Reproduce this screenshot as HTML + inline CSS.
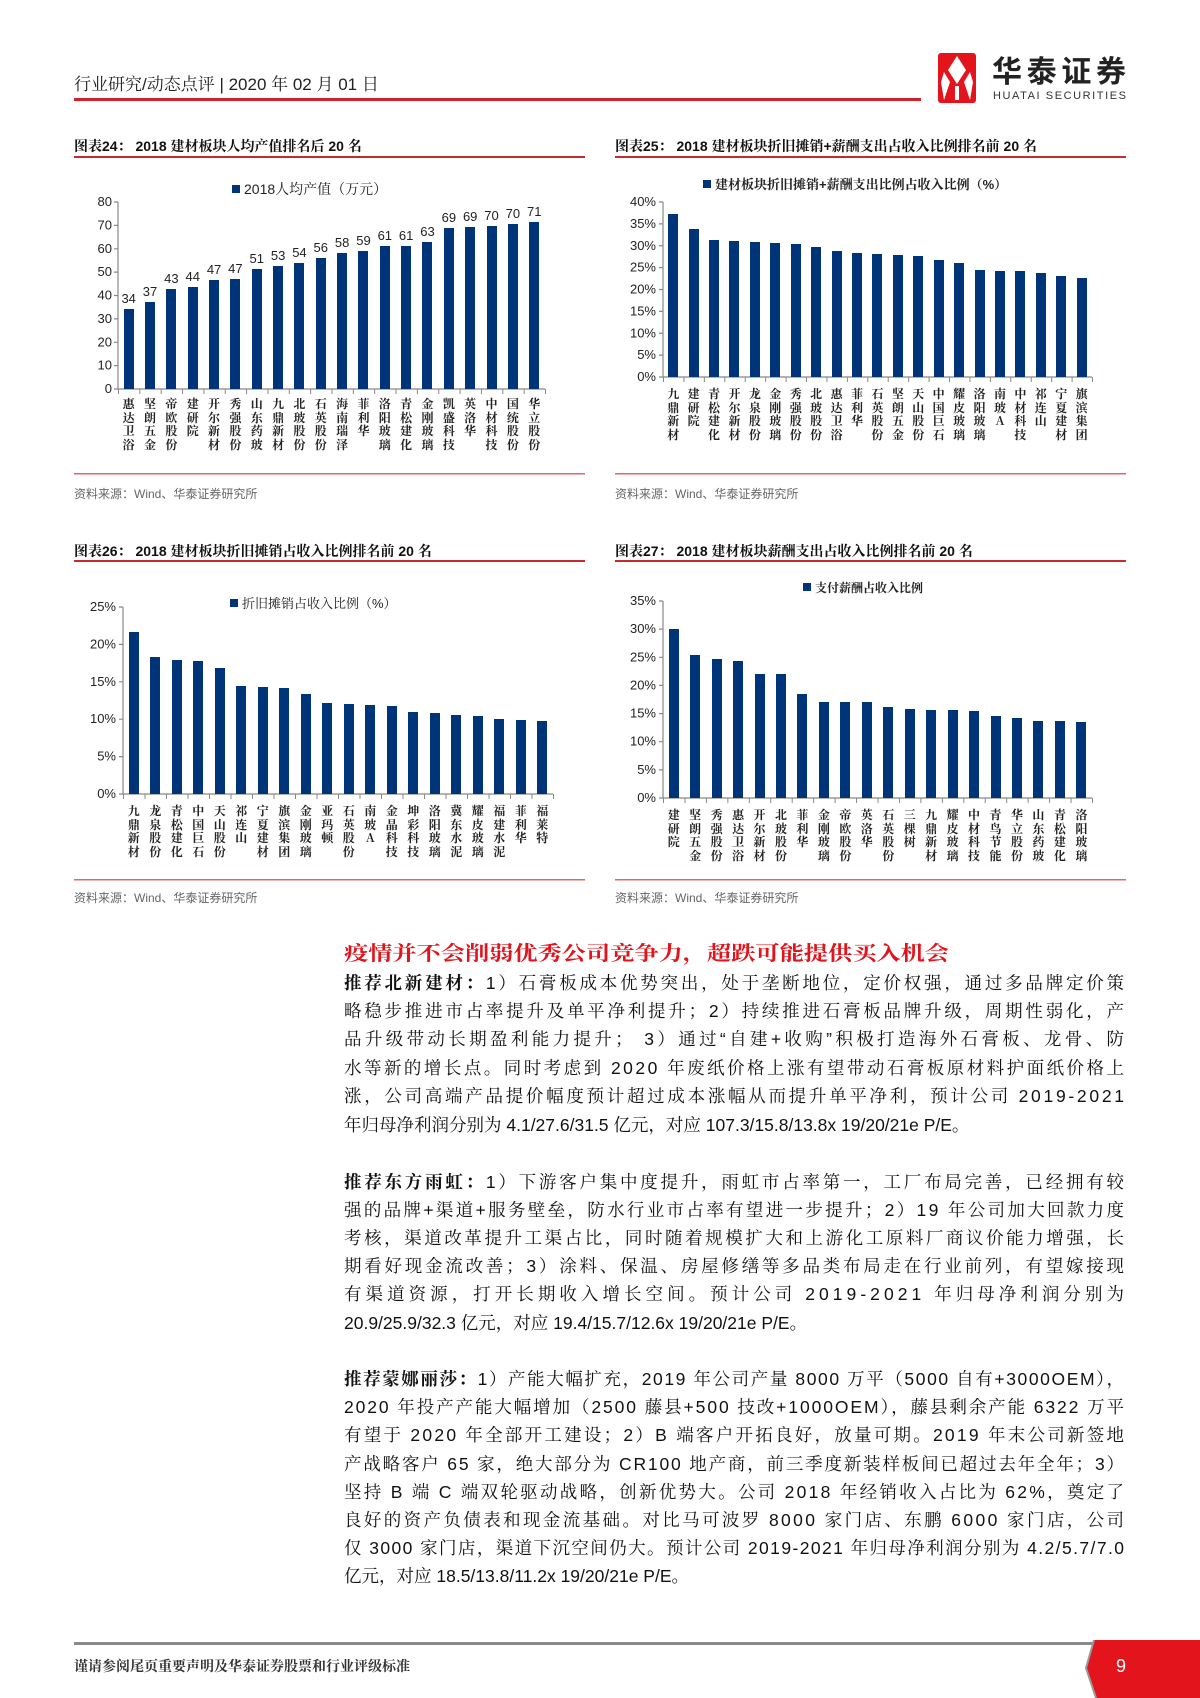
<!DOCTYPE html>
<html><head><meta charset="utf-8">
<style>
*{margin:0;padding:0;box-sizing:border-box}
body{width:1200px;height:1698px;position:relative;background:#fff;font-family:"Liberation Sans","Noto Sans CJK SC",sans-serif;color:#111;overflow:hidden}
.abs{position:absolute}
.plot{position:absolute;display:flex;align-items:flex-end}
.c{flex:1;display:flex;flex-direction:column;align-items:center;justify-content:flex-end}
.b{width:10px;background:#003479}
.v{font-size:13px;line-height:16px;margin-bottom:2px;color:#222}
.names{position:absolute;display:flex;align-items:flex-start}
.names span{flex:1;display:flex;justify-content:center}
.names i{font-style:normal;display:block;width:13px;word-break:break-all;text-align:center;font-size:12px;line-height:13.5px;font-family:"Noto Serif CJK SC","Noto Sans CJK SC",serif;font-weight:bold;color:#222}
.leg{position:absolute;font-family:"Liberation Sans","Noto Serif CJK SC",serif;color:#222;white-space:nowrap}
.leg b{display:inline-block;width:8px;height:8px;background:#003479;margin-right:4px;vertical-align:1px}
.tt{position:absolute;font-family:"Liberation Sans","Noto Serif CJK SC",serif;font-weight:bold;font-size:14px;white-space:nowrap}
.src{position:absolute;font-size:12px;color:#666;font-family:"Liberation Sans","Noto Sans CJK SC",sans-serif}
</style></head><body>

<svg class="abs" style="left:0;top:0" width="1200" height="1698" font-family="Liberation Sans, Noto Sans CJK SC, sans-serif">
<text x="74" y="90" font-size="17" fill="#222" font-family="Liberation Sans, Noto Serif CJK SC, serif">行业研究/动态点评 | 2020 年 02 月 01 日</text>
<rect x="74" y="98" width="847" height="3" fill="#d0202a"/>
<g>
<rect x="938" y="53" width="38" height="50" rx="3" fill="#e3141c"/>
<path d="M957 56 L966 70 L957 84 L948 70Z" fill="#fff"/>
<path d="M944 72 L950 82 L944 100 L941 82Z" fill="#fff"/>
<path d="M970 72 L973 82 L970 100 L964 82Z" fill="#fff"/>
<rect x="955" y="86" width="4" height="14" fill="#fff"/>
</g>
<text x="992" y="82" font-size="30" font-weight="bold" fill="#222" font-family="Noto Sans CJK SC, sans-serif" textLength="134">华泰证券</text>
<text x="993" y="99" font-size="11" fill="#333" textLength="133">HUATAI SECURITIES</text>

<rect x="74" y="156" width="511" height="2" fill="#c62a2a"/>
<rect x="615" y="156" width="511" height="2" fill="#c62a2a"/>
<rect x="74" y="473" width="511" height="1.5" fill="#d86a6a"/>
<rect x="615" y="473" width="511" height="1.5" fill="#d86a6a"/>
<rect x="74" y="560" width="511" height="2" fill="#c62a2a"/>
<rect x="615" y="560" width="511" height="2" fill="#c62a2a"/>
<rect x="74" y="879" width="511" height="1.5" fill="#d86a6a"/>
<rect x="615" y="879" width="511" height="1.5" fill="#d86a6a"/>

<g stroke="#888" stroke-width="1.2" fill="none">
<line x1="118" y1="202" x2="118" y2="389"/><line x1="118" y1="389" x2="545" y2="389"/>
<line x1="118" y1="391.5" x2="546" y2="391.5" stroke-width="5" stroke-dasharray="1 20.35"/>
<path d="M114 202H118M114 225.4H118M114 248.8H118M114 272.1H118M114 295.5H118M114 318.9H118M114 342.3H118M114 365.6H118M114 389H118"/>
<line x1="663" y1="202" x2="663" y2="377"/><line x1="663" y1="377" x2="1092" y2="377"/>
<line x1="663" y1="379.5" x2="1093" y2="379.5" stroke-width="5" stroke-dasharray="1 19.43"/>
<path d="M659 202H663M659 223.9H663M659 245.75H663M659 267.6H663M659 289.5H663M659 311.4H663M659 333.25H663M659 355.1H663M659 377H663"/>
<line x1="123" y1="607" x2="123" y2="794"/><line x1="123" y1="794" x2="553" y2="794"/>
<line x1="123" y1="796.5" x2="554" y2="796.5" stroke-width="5" stroke-dasharray="1 20.5"/>
<path d="M119 607H123M119 644.4H123M119 681.8H123M119 719.2H123M119 756.6H123M119 794H123"/>
<line x1="663" y1="601" x2="663" y2="798"/><line x1="663" y1="798" x2="1092" y2="798"/>
<line x1="663" y1="800.5" x2="1093" y2="800.5" stroke-width="5" stroke-dasharray="1 20.45"/>
<path d="M659 601H663M659 629.1H663M659 657.3H663M659 685.4H663M659 713.6H663M659 741.7H663M659 769.9H663M659 798H663"/>
</g>
<g font-size="13" fill="#222" text-anchor="end">
<text x="112" y="206">80</text><text x="112" y="229.4">70</text><text x="112" y="252.8">60</text><text x="112" y="276.1">50</text><text x="112" y="299.5">40</text><text x="112" y="322.9">30</text><text x="112" y="346.3">20</text><text x="112" y="369.6">10</text><text x="112" y="393">0</text>
<text x="656" y="206">40%</text><text x="656" y="227.9">35%</text><text x="656" y="249.75">30%</text><text x="656" y="271.6">25%</text><text x="656" y="293.5">20%</text><text x="656" y="315.4">15%</text><text x="656" y="337.25">10%</text><text x="656" y="359.1">5%</text><text x="656" y="381">0%</text>
<text x="116" y="611">25%</text><text x="116" y="648.4">20%</text><text x="116" y="685.8">15%</text><text x="116" y="723.2">10%</text><text x="116" y="760.6">5%</text><text x="116" y="798">0%</text>
<text x="656" y="605">35%</text><text x="656" y="633.1">30%</text><text x="656" y="661.3">25%</text><text x="656" y="689.4">20%</text><text x="656" y="717.6">15%</text><text x="656" y="745.7">10%</text><text x="656" y="773.9">5%</text><text x="656" y="802">0%</text>
</g>

<g font-family="Liberation Sans, Noto Serif CJK SC, serif" font-size="17.5" fill="#111">
<text x="344" y="960" font-size="20" font-weight="bold" fill="#e0141c" textLength="605" lengthAdjust="spacingAndGlyphs">疫情并不会削弱优秀公司竞争力，超跌可能提供买入机会</text>
<text x="344" y="989" textLength="780"><tspan font-weight="bold">推荐北新建材：</tspan>1）石膏板成本优势突出，处于垄断地位，定价权强，通过多品牌定价策</text>
<text x="344" y="1017" textLength="780">略稳步推进市占率提升及单平净利提升；2）持续推进石膏板品牌升级，周期性弱化，产</text>
<text x="344" y="1045" textLength="780">品升级带动长期盈利能力提升； 3）通过“自建+收购”积极打造海外石膏板、龙骨、防</text>
<text x="344" y="1074" textLength="780">水等新的增长点。同时考虑到 2020 年废纸价格上涨有望带动石膏板原材料护面纸价格上</text>
<text x="344" y="1102" textLength="780">涨，公司高端产品提价幅度预计超过成本涨幅从而提升单平净利，预计公司 2019-2021</text>
<text x="344" y="1131">年归母净利润分别为 4.1/27.6/31.5 亿元，对应 107.3/15.8/13.8x 19/20/21e P/E。</text>

<text x="344" y="1188" textLength="780"><tspan font-weight="bold">推荐东方雨虹：</tspan>1）下游客户集中度提升，雨虹市占率第一，工厂布局完善，已经拥有较</text>
<text x="344" y="1216" textLength="780">强的品牌+渠道+服务壁垒，防水行业市占率有望进一步提升；2）19 年公司加大回款力度</text>
<text x="344" y="1244" textLength="780">考核，渠道改革提升工渠占比，同时随着规模扩大和上游化工原料厂商议价能力增强，长</text>
<text x="344" y="1272" textLength="780">期看好现金流改善；3）涂料、保温、房屋修缮等多品类布局走在行业前列，有望嫁接现</text>
<text x="344" y="1300" textLength="780">有渠道资源，打开长期收入增长空间。预计公司 2019-2021 年归母净利润分别为</text>
<text x="344" y="1329">20.9/25.9/32.3 亿元，对应 19.4/15.7/12.6x 19/20/21e P/E。</text>

<text x="344" y="1385" textLength="780"><tspan font-weight="bold">推荐蒙娜丽莎：</tspan>1）产能大幅扩充，2019 年公司产量 8000 万平（5000 自有+3000OEM），</text>
<text x="344" y="1413" textLength="780">2020 年投产产能大幅增加（2500 藤县+500 技改+1000OEM），藤县剩余产能 6322 万平</text>
<text x="344" y="1441" textLength="780">有望于 2020 年全部开工建设；2）B 端客户开拓良好，放量可期。2019 年末公司新签地</text>
<text x="344" y="1470" textLength="780">产战略客户 65 家，绝大部分为 CR100 地产商，前三季度新装样板间已超过去年全年；3）</text>
<text x="344" y="1498" textLength="780">坚持 B 端 C 端双轮驱动战略，创新优势大。公司 2018 年经销收入占比为 62%，奠定了</text>
<text x="344" y="1526" textLength="780">良好的资产负债表和现金流基础。对比马可波罗 8000 家门店、东鹏 6000 家门店，公司</text>
<text x="344" y="1554" textLength="780">仅 3000 家门店，渠道下沉空间仍大。预计公司 2019-2021 年归母净利润分别为 4.2/5.7/7.0</text>
<text x="344" y="1582">亿元，对应 18.5/13.8/11.2x 19/20/21e P/E。</text>
</g>

<rect x="74" y="1642" width="1020" height="3" fill="#8a8a8a"/>
<path d="M1094 1640 H1200 V1698 H1096 L1086 1668 Z" fill="#e3141c"/>
<path d="M1094 1640 L1086 1668 L1096 1698" stroke="#999" stroke-width="2" fill="none"/>
<text x="1116" y="1672" font-size="18" fill="#fff">9</text>
<text x="74" y="1671" font-size="14" fill="#333" font-family="Noto Serif CJK SC, serif" font-weight="bold">谨请参阅尾页重要声明及华泰证券股票和行业评级标准</text>
</svg>

<div class="tt" style="left:74px;top:136px">图表24： 2018 建材板块人均产值排名后 20 名</div>
<div class="tt" style="left:615px;top:136px">图表25： 2018 建材板块折旧摊销+薪酬支出占收入比例排名前 20 名</div>
<div class="tt" style="left:74px;top:541px">图表26： 2018 建材板块折旧摊销占收入比例排名前 20 名</div>
<div class="tt" style="left:615px;top:541px">图表27： 2018 建材板块薪酬支出占收入比例排名前 20 名</div>
<div class="src" style="left:74px;top:485px">资料来源：Wind、华泰证券研究所</div>
<div class="src" style="left:615px;top:485px">资料来源：Wind、华泰证券研究所</div>
<div class="src" style="left:74px;top:889px">资料来源：Wind、华泰证券研究所</div>
<div class="src" style="left:615px;top:889px">资料来源：Wind、华泰证券研究所</div>

<div class="leg" style="left:232px;top:179px;font-size:14px"><b></b>2018人均产值（万元）</div>
<div class="leg" style="left:703px;top:174px;font-size:13px;font-weight:bold"><b></b>建材板块折旧摊销+薪酬支出比例占收入比例（%）</div>
<div class="leg" style="left:230px;top:593px;font-size:13px"><b></b>折旧摊销占收入比例（%）</div>
<div class="leg" style="left:803px;top:579px;font-size:12px;font-weight:bold"><b></b>支付薪酬占收入比例</div>

<div class="plot" style="left:118px;top:180px;width:427px;height:209px">
<div class="c"><span class="v">34</span><div class="b" style="height:80px"></div></div>
<div class="c"><span class="v">37</span><div class="b" style="height:87px"></div></div>
<div class="c"><span class="v">43</span><div class="b" style="height:100px"></div></div>
<div class="c"><span class="v">44</span><div class="b" style="height:102px"></div></div>
<div class="c"><span class="v">47</span><div class="b" style="height:109px"></div></div>
<div class="c"><span class="v">47</span><div class="b" style="height:110px"></div></div>
<div class="c"><span class="v">51</span><div class="b" style="height:120px"></div></div>
<div class="c"><span class="v">53</span><div class="b" style="height:123px"></div></div>
<div class="c"><span class="v">54</span><div class="b" style="height:126px"></div></div>
<div class="c"><span class="v">56</span><div class="b" style="height:131px"></div></div>
<div class="c"><span class="v">58</span><div class="b" style="height:136px"></div></div>
<div class="c"><span class="v">59</span><div class="b" style="height:138px"></div></div>
<div class="c"><span class="v">61</span><div class="b" style="height:143px"></div></div>
<div class="c"><span class="v">61</span><div class="b" style="height:143px"></div></div>
<div class="c"><span class="v">63</span><div class="b" style="height:147px"></div></div>
<div class="c"><span class="v">69</span><div class="b" style="height:161px"></div></div>
<div class="c"><span class="v">69</span><div class="b" style="height:162px"></div></div>
<div class="c"><span class="v">70</span><div class="b" style="height:163px"></div></div>
<div class="c"><span class="v">70</span><div class="b" style="height:165px"></div></div>
<div class="c"><span class="v">71</span><div class="b" style="height:167px"></div></div>
</div>
<div class="names" style="left:118px;top:397px;width:427px">
<span><i>惠达卫浴</i></span><span><i>坚朗五金</i></span><span><i>帝欧股份</i></span><span><i>建研院</i></span><span><i>开尔新材</i></span><span><i>秀强股份</i></span><span><i>山东药玻</i></span><span><i>九鼎新材</i></span><span><i>北玻股份</i></span><span><i>石英股份</i></span><span><i>海南瑞泽</i></span><span><i>菲利华</i></span><span><i>洛阳玻璃</i></span><span><i>青松建化</i></span><span><i>金刚玻璃</i></span><span><i>凯盛科技</i></span><span><i>英洛华</i></span><span><i>中材科技</i></span><span><i>国统股份</i></span><span><i>华立股份</i></span>
</div>

<div class="plot" style="left:663px;top:202px;width:429px;height:175px">
<div class="c"><div class="b" style="height:163px"></div></div>
<div class="c"><div class="b" style="height:148px"></div></div>
<div class="c"><div class="b" style="height:137px"></div></div>
<div class="c"><div class="b" style="height:136px"></div></div>
<div class="c"><div class="b" style="height:135px"></div></div>
<div class="c"><div class="b" style="height:134px"></div></div>
<div class="c"><div class="b" style="height:133px"></div></div>
<div class="c"><div class="b" style="height:130px"></div></div>
<div class="c"><div class="b" style="height:126px"></div></div>
<div class="c"><div class="b" style="height:124px"></div></div>
<div class="c"><div class="b" style="height:123px"></div></div>
<div class="c"><div class="b" style="height:122px"></div></div>
<div class="c"><div class="b" style="height:121px"></div></div>
<div class="c"><div class="b" style="height:117px"></div></div>
<div class="c"><div class="b" style="height:114px"></div></div>
<div class="c"><div class="b" style="height:107px"></div></div>
<div class="c"><div class="b" style="height:106px"></div></div>
<div class="c"><div class="b" style="height:106px"></div></div>
<div class="c"><div class="b" style="height:104px"></div></div>
<div class="c"><div class="b" style="height:101px"></div></div>
<div class="c"><div class="b" style="height:99px"></div></div>
</div>
<div class="names" style="left:663px;top:387px;width:429px">
<span><i>九鼎新材</i></span><span><i>建研院</i></span><span><i>青松建化</i></span><span><i>开尔新材</i></span><span><i>龙泉股份</i></span><span><i>金刚玻璃</i></span><span><i>秀强股份</i></span><span><i>北玻股份</i></span><span><i>惠达卫浴</i></span><span><i>菲利华</i></span><span><i>石英股份</i></span><span><i>坚朗五金</i></span><span><i>天山股份</i></span><span><i>中国巨石</i></span><span><i>耀皮玻璃</i></span><span><i>洛阳玻璃</i></span><span><i>南玻A</i></span><span><i>中材科技</i></span><span><i>祁连山</i></span><span><i>宁夏建材</i></span><span><i>旗滨集团</i></span>
</div>

<div class="plot" style="left:123px;top:607px;width:430px;height:187px">
<div class="c"><div class="b" style="height:162px"></div></div>
<div class="c"><div class="b" style="height:137px"></div></div>
<div class="c"><div class="b" style="height:134px"></div></div>
<div class="c"><div class="b" style="height:133px"></div></div>
<div class="c"><div class="b" style="height:126px"></div></div>
<div class="c"><div class="b" style="height:108px"></div></div>
<div class="c"><div class="b" style="height:107px"></div></div>
<div class="c"><div class="b" style="height:106px"></div></div>
<div class="c"><div class="b" style="height:100px"></div></div>
<div class="c"><div class="b" style="height:91px"></div></div>
<div class="c"><div class="b" style="height:90px"></div></div>
<div class="c"><div class="b" style="height:89px"></div></div>
<div class="c"><div class="b" style="height:88px"></div></div>
<div class="c"><div class="b" style="height:82px"></div></div>
<div class="c"><div class="b" style="height:81px"></div></div>
<div class="c"><div class="b" style="height:79px"></div></div>
<div class="c"><div class="b" style="height:78px"></div></div>
<div class="c"><div class="b" style="height:75px"></div></div>
<div class="c"><div class="b" style="height:74px"></div></div>
<div class="c"><div class="b" style="height:73px"></div></div>
</div>
<div class="names" style="left:123px;top:804px;width:430px">
<span><i>九鼎新材</i></span><span><i>龙泉股份</i></span><span><i>青松建化</i></span><span><i>中国巨石</i></span><span><i>天山股份</i></span><span><i>祁连山</i></span><span><i>宁夏建材</i></span><span><i>旗滨集团</i></span><span><i>金刚玻璃</i></span><span><i>亚玛顿</i></span><span><i>石英股份</i></span><span><i>南玻A</i></span><span><i>金晶科技</i></span><span><i>坤彩科技</i></span><span><i>洛阳玻璃</i></span><span><i>冀东水泥</i></span><span><i>耀皮玻璃</i></span><span><i>福建水泥</i></span><span><i>菲利华</i></span><span><i>福莱特</i></span>
</div>

<div class="plot" style="left:663px;top:601px;width:429px;height:197px">
<div class="c"><div class="b" style="height:169px"></div></div>
<div class="c"><div class="b" style="height:143px"></div></div>
<div class="c"><div class="b" style="height:139px"></div></div>
<div class="c"><div class="b" style="height:137px"></div></div>
<div class="c"><div class="b" style="height:124px"></div></div>
<div class="c"><div class="b" style="height:124px"></div></div>
<div class="c"><div class="b" style="height:104px"></div></div>
<div class="c"><div class="b" style="height:96px"></div></div>
<div class="c"><div class="b" style="height:96px"></div></div>
<div class="c"><div class="b" style="height:96px"></div></div>
<div class="c"><div class="b" style="height:91px"></div></div>
<div class="c"><div class="b" style="height:89px"></div></div>
<div class="c"><div class="b" style="height:88px"></div></div>
<div class="c"><div class="b" style="height:88px"></div></div>
<div class="c"><div class="b" style="height:87px"></div></div>
<div class="c"><div class="b" style="height:82px"></div></div>
<div class="c"><div class="b" style="height:80px"></div></div>
<div class="c"><div class="b" style="height:77px"></div></div>
<div class="c"><div class="b" style="height:77px"></div></div>
<div class="c"><div class="b" style="height:76px"></div></div>
</div>
<div class="names" style="left:663px;top:808px;width:429px">
<span><i>建研院</i></span><span><i>坚朗五金</i></span><span><i>秀强股份</i></span><span><i>惠达卫浴</i></span><span><i>开尔新材</i></span><span><i>北玻股份</i></span><span><i>菲利华</i></span><span><i>金刚玻璃</i></span><span><i>帝欧股份</i></span><span><i>英洛华</i></span><span><i>石英股份</i></span><span><i>三棵树</i></span><span><i>九鼎新材</i></span><span><i>耀皮玻璃</i></span><span><i>中材科技</i></span><span><i>青鸟节能</i></span><span><i>华立股份</i></span><span><i>山东药玻</i></span><span><i>青松建化</i></span><span><i>洛阳玻璃</i></span>
</div>

</body></html>
